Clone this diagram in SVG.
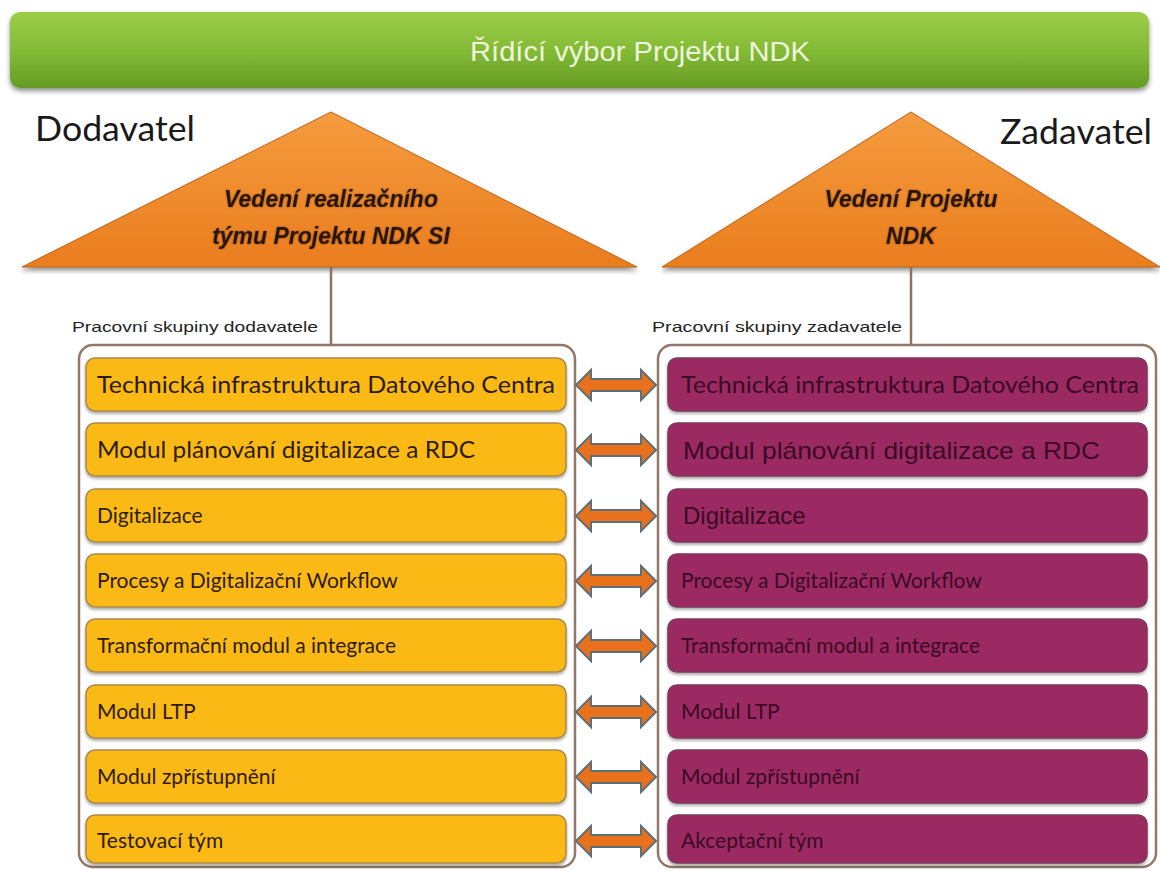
<svg xmlns="http://www.w3.org/2000/svg" width="1160" height="870" viewBox="0 0 1160 870">
  <defs>
    <linearGradient id="gGreen" x1="0" y1="0" x2="0" y2="1">
      <stop offset="0" stop-color="#9ccd48"/>
      <stop offset="0.5" stop-color="#84bb36"/>
      <stop offset="1" stop-color="#659c24"/>
    </linearGradient>
    <linearGradient id="gOrange" x1="0" y1="0" x2="0" y2="1">
      <stop offset="0" stop-color="#f59c3e"/>
      <stop offset="1" stop-color="#ea7d1e"/>
    </linearGradient>
    <filter id="shadow" x="-5%" y="-10%" width="110%" height="130%">
      <feGaussianBlur in="SourceAlpha" stdDeviation="2.5"/>
      <feOffset dx="0" dy="3" result="b"/>
      <feComponentTransfer><feFuncA type="linear" slope="0.45"/></feComponentTransfer>
      <feMerge><feMergeNode/><feMergeNode in="SourceGraphic"/></feMerge>
    </filter>
    <filter id="soft" x="-5%" y="-20%" width="110%" height="150%">
      <feGaussianBlur in="SourceAlpha" stdDeviation="1.5"/>
      <feOffset dx="0" dy="2"/>
      <feComponentTransfer><feFuncA type="linear" slope="0.35"/></feComponentTransfer>
      <feMerge><feMergeNode/><feMergeNode in="SourceGraphic"/></feMerge>
    </filter>
    <filter id="glow" x="-10%" y="-30%" width="120%" height="160%">
      <feGaussianBlur in="SourceAlpha" stdDeviation="1.2"/>
      <feComponentTransfer><feFuncA type="linear" slope="0.4"/></feComponentTransfer>
      <feMerge><feMergeNode/><feMergeNode in="SourceGraphic"/></feMerge>
    </filter>
    <!-- double-headed block arrow, centred on the origin -->
    <path id="dblArrow" d="M-40,0 L-25,-15 L-25,-6 L25,-6 L25,-15 L40,0 L25,15 L25,6 L-25,6 L-25,15 Z"/>
  </defs>
  <style>
    .side { font-family: Lato, "Open Sans", sans-serif; font-size: 34px; fill: #1a1a1a; }
    .tri { fill: url(#gOrange); stroke: #b8641c; stroke-width: 1; filter: url(#shadow); }
    .triText { font-family: "Liberation Sans", Arial, sans-serif; font-size: 23px; font-weight: bold; font-style: italic; fill: #2a1606; text-anchor: middle; filter: url(#glow); }
    .grpLabel { font-family: "Liberation Sans", Arial, sans-serif; font-size: 15px; fill: #222; }
    .container { fill: #ffffff; stroke: #93786a; stroke-width: 2.5; }
    .stem { stroke: #8c7264; stroke-width: 2.5; fill: none; }
    .yBox { fill: #fbb917; stroke: #a9894c; stroke-width: 1.5; filter: url(#soft); }
    .pBox { fill: #9c2c62; stroke: #7a3a5a; stroke-width: 1.5; filter: url(#soft); }
    .yText { font-family: Lato, "Open Sans", sans-serif; font-size: 21px; fill: #2d1c06; }
    .pText { font-family: Lato, "Open Sans", sans-serif; font-size: 21px; fill: #3a0a26; }
    .big { font-size: 23px; }
    .pTextA { font-family: "Liberation Sans", Arial, sans-serif; font-size: 24px; fill: #3a0a26; }
    .arrow { fill: #e9711c; stroke: #5f6f78; stroke-width: 2; }
  </style>

  <!-- steering committee bar -->
  <g id="committee">
    <rect x="10" y="12" width="1139" height="76" rx="10" fill="url(#gGreen)" filter="url(#shadow)"/>
    <text x="470" y="61" font-family="'Liberation Sans', Arial, sans-serif" font-size="28" fill="#eef5dc" textLength="340" lengthAdjust="spacingAndGlyphs">Řídící výbor Projektu NDK</text>
  </g>

  <g id="sideLabels">
    <text class="side" x="35" y="141" textLength="160" lengthAdjust="spacingAndGlyphs">Dodavatel</text>
    <text class="side" x="1000" y="144" textLength="152" lengthAdjust="spacingAndGlyphs">Zadavatel</text>
  </g>

  <!-- supplier management -->
  <g id="supplierLead">
    <polygon class="tri" points="331,112 637,267 22,267"/>
    <text class="triText" x="331" y="207">Vedení realizačního</text>
    <text class="triText" x="331" y="244">týmu Projektu NDK SI</text>
  </g>

  <!-- contracting authority management -->
  <g id="clientLead">
    <polygon class="tri" points="911,112 1160,267 662,267"/>
    <text class="triText" x="911" y="207">Vedení Projektu</text>
    <text class="triText" x="911" y="244">NDK</text>
  </g>

  <!-- working group containers -->
  <g id="supplierGroups">
    <rect class="container" x="79" y="345" width="496" height="522" rx="14"/>
    <text class="grpLabel" x="72" y="332" textLength="246" lengthAdjust="spacingAndGlyphs">Pracovní skupiny dodavatele</text>
  </g>
  <g id="clientGroups">
    <rect class="container" x="658" y="345" width="498" height="522" rx="14"/>
    <text class="grpLabel" x="652" y="332" textLength="250" lengthAdjust="spacingAndGlyphs">Pracovní skupiny zadavatele</text>
  </g>

  <!-- supplier working groups -->
  <g id="s1"><rect class="yBox" x="86" y="358" width="480" height="53" rx="9"/><text class="yText big" x="97" y="393" textLength="458" lengthAdjust="spacingAndGlyphs">Technická infrastruktura Datového Centra</text></g>
  <g id="s2"><rect class="yBox" x="86" y="423" width="480" height="53" rx="9"/><text class="yText big" x="97" y="458" textLength="378" lengthAdjust="spacingAndGlyphs">Modul plánování digitalizace a RDC</text></g>
  <g id="s3"><rect class="yBox" x="86" y="489" width="480" height="53" rx="9"/><text class="yText" x="97" y="523">Digitalizace</text></g>
  <g id="s4"><rect class="yBox" x="86" y="554" width="480" height="53" rx="9"/><text class="yText" x="97" y="588">Procesy a Digitalizační Workflow</text></g>
  <g id="s5"><rect class="yBox" x="86" y="619" width="480" height="53" rx="9"/><text class="yText" x="97" y="653">Transformační modul a integrace</text></g>
  <g id="s6"><rect class="yBox" x="86" y="685" width="480" height="53" rx="9"/><text class="yText" x="97" y="719">Modul LTP</text></g>
  <g id="s7"><rect class="yBox" x="86" y="750" width="480" height="53" rx="9"/><text class="yText" x="97" y="784">Modul zpřístupnění</text></g>
  <g id="s8"><rect class="yBox" x="86" y="815" width="480" height="48" rx="9"/><text class="yText" x="97" y="848">Testovací tým</text></g>

  <!-- client working groups -->
  <g id="c1"><rect class="pBox" x="668" y="358" width="479" height="53" rx="9"/><text class="pText big" x="681" y="393" textLength="458" lengthAdjust="spacingAndGlyphs">Technická infrastruktura Datového Centra</text></g>
  <g id="c2"><rect class="pBox" x="668" y="423" width="479" height="53" rx="9"/><text class="pTextA" x="683" y="459" textLength="417" lengthAdjust="spacingAndGlyphs">Modul plánování digitalizace a RDC</text></g>
  <g id="c3"><rect class="pBox" x="668" y="489" width="479" height="53" rx="9"/><text class="pTextA" x="683" y="524">Digitalizace</text></g>
  <g id="c4"><rect class="pBox" x="668" y="554" width="479" height="53" rx="9"/><text class="pText" x="681" y="588">Procesy a Digitalizační Workflow</text></g>
  <g id="c5"><rect class="pBox" x="668" y="619" width="479" height="53" rx="9"/><text class="pText" x="681" y="653">Transformační modul a integrace</text></g>
  <g id="c6"><rect class="pBox" x="668" y="685" width="479" height="53" rx="9"/><text class="pText" x="681" y="719">Modul LTP</text></g>
  <g id="c7"><rect class="pBox" x="668" y="750" width="479" height="53" rx="9"/><text class="pText" x="681" y="784">Modul zpřístupnění</text></g>
  <g id="c8"><rect class="pBox" x="668" y="815" width="479" height="48" rx="9"/><text class="pText" x="681" y="848">Akceptační tým</text></g>

  <!-- connectors -->
  <g id="connectors">
    <line class="stem" x1="331" y1="267" x2="331" y2="345"/>
    <line class="stem" x1="911" y1="267" x2="911" y2="345"/>
    <use href="#dblArrow" class="arrow" transform="translate(616,385)"/>
    <use href="#dblArrow" class="arrow" transform="translate(616,450)"/>
    <use href="#dblArrow" class="arrow" transform="translate(616,516)"/>
    <use href="#dblArrow" class="arrow" transform="translate(616,581)"/>
    <use href="#dblArrow" class="arrow" transform="translate(616,646)"/>
    <use href="#dblArrow" class="arrow" transform="translate(616,712)"/>
    <use href="#dblArrow" class="arrow" transform="translate(616,777)"/>
    <use href="#dblArrow" class="arrow" transform="translate(616,841)"/>
  </g>
</svg>
